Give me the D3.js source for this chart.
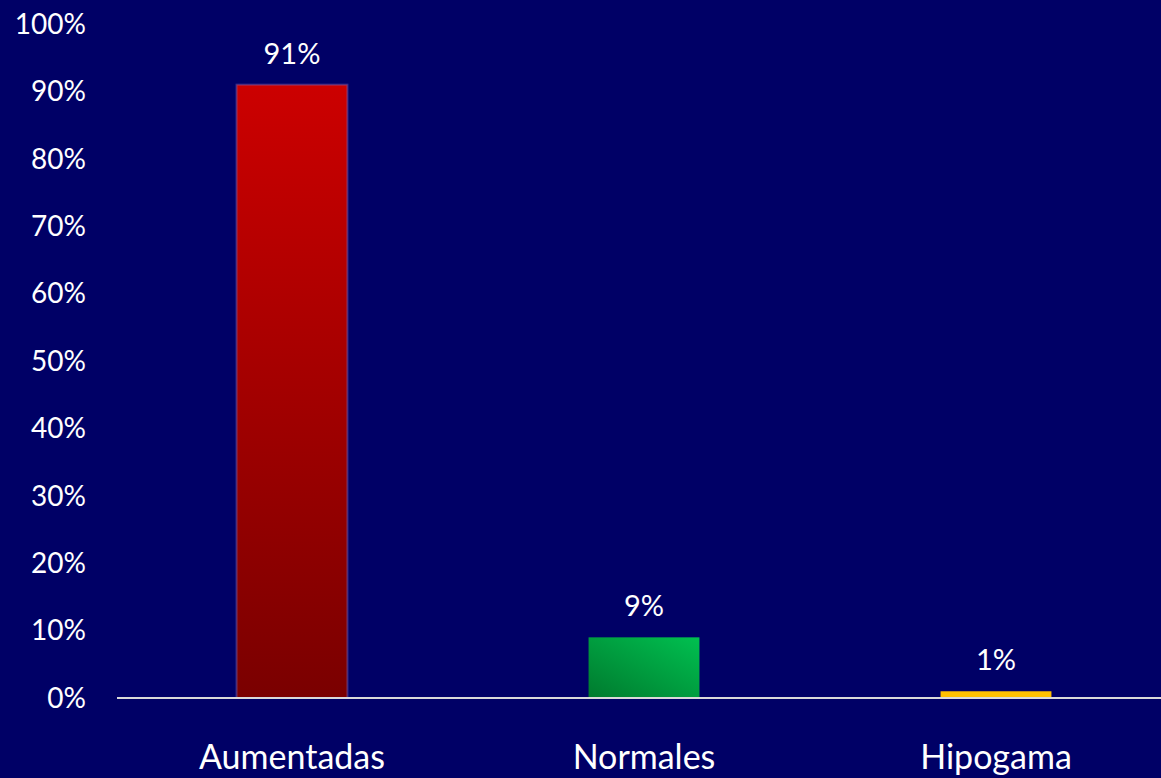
<!DOCTYPE html>
<html>
<head>
<meta charset="UTF-8">
<script src="https://cdn.jsdelivr.net/npm/d3@7"></script>
<style>
  html, body { margin: 0; padding: 0; background: #000066; }
  svg { display: block; }
  text { font-family: Lato, "Open Sans", sans-serif; fill: #ffffff; }
</style>
</head>
<body>
<svg id="chart" width="1161" height="778"></svg>
<script>
// chart data
var categories = ['Aumentadas', 'Normales', 'Hipogama'];
var values = [91, 9, 1];
var valueLabels = ['91%', '9%', '1%'];
var yTicks = [0, 10, 20, 30, 40, 50, 60, 70, 80, 90, 100];

var svg = d3.select('#chart');
var W = 1161, H = 778;

var x = d3.scaleBand().domain(categories).range([116, 1172]).paddingInner(0.685).paddingOuter(0.3425);
var y = d3.scaleLinear().domain([0, 100]).range([698, 24]);

// gradients
var defs = svg.append('defs');
var gRed = defs.append('linearGradient').attr('id', 'gRed')
    .attr('x1', 0).attr('y1', 0).attr('x2', 0).attr('y2', 1);
gRed.append('stop').attr('offset', '0%').attr('stop-color', '#cc0000');
gRed.append('stop').attr('offset', '100%').attr('stop-color', '#7a0000');

var gGreen = defs.append('linearGradient').attr('id', 'gGreen')
    .attr('x1', 1).attr('y1', 0).attr('x2', 0).attr('y2', 1);
gGreen.append('stop').attr('offset', '0%').attr('stop-color', '#00c050');
gGreen.append('stop').attr('offset', '100%').attr('stop-color', '#007a2e');

var fills = ['url(#gRed)', 'url(#gGreen)', '#ffc000'];

// y axis labels
svg.append('g').selectAll('text')
    .data(yTicks).enter().append('text')
    .attr('x', 86)
    .attr('y', d => y(d))
    .attr('dy', '0.35em')
    .attr('text-anchor', 'end')
    .style('font-size', '28px')
    .text(d => d + '%');

// bars
svg.append('g').selectAll('rect')
    .data(values).enter().append('rect')
    .attr('x', (d, i) => x(categories[i]))
    .attr('y', d => y(d))
    .attr('width', x.bandwidth())
    .attr('height', d => y(0) - y(d))
    .attr('fill', (d, i) => fills[i])
    .attr('stroke', (d, i) => i == 0 ? 'rgba(110,100,190,0.45)' : 'none')
    .attr('stroke-width', 2);

// value labels
svg.append('g').selectAll('text')
    .data(values).enter().append('text')
    .attr('x', (d, i) => x(categories[i]) + x.bandwidth() / 2)
    .attr('y', d => y(d) - 31)
    .attr('dy', '0.35em')
    .attr('text-anchor', 'middle')
    .style('font-size', '29px')
    .text((d, i) => valueLabels[i]);

// baseline
svg.append('line')
    .attr('x1', 117).attr('x2', W)
    .attr('y1', y(0)).attr('y2', y(0))
    .attr('stroke', '#d9d9d9').attr('stroke-width', 2);

// category labels
svg.append('g').selectAll('text')
    .data(categories).enter().append('text')
    .attr('x', d => x(d) + x.bandwidth() / 2)
    .attr('y', 757)
    .attr('dy', '0.35em')
    .attr('text-anchor', 'middle')
    .style('font-size', '34px')
    .text(d => d);
</script>
</body>
</html>
